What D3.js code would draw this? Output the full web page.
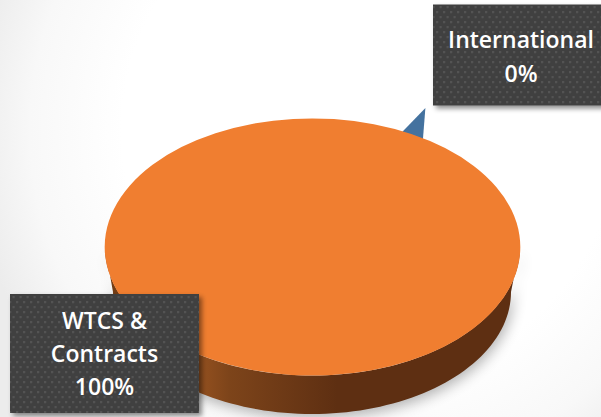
<!DOCTYPE html>
<html>
<head>
<meta charset="utf-8">
<style>
  html, body { margin: 0; padding: 0; background: #fff; overflow: hidden; }
  svg { display: block; }
  text { font-family: "Open Sans", sans-serif; font-weight: 600; fill: #fff; }
</style>
</head>
<body>
<svg id="chart" width="601" height="417"></svg>
<script src="https://cdn.jsdelivr.net/npm/d3@7"></script>
<script>
// Funding split
const categories = ["International", "WTCS & Contracts"];
const shares = [0.004, 0.996];
const labelLines = [["International"], ["WTCS &", "Contracts"]];

const W = 601, H = 417;
const svg = d3.select("#chart");
const defs = svg.append("defs");

// Disc geometry: unit-circle coordinates projected onto the tilted disc
const top3d = { cx: 312.5, cy: 247, rx: 207.5, ry: 128.5 };
const base3d = { cx: 312, cy: 292, rx: 199, ry: 122 };
const sx = g => d3.scaleLinear().domain([-1, 1]).range([g.cx - g.rx, g.cx + g.rx]);
const sy = g => d3.scaleLinear().domain([-1, 1]).range([g.cy + g.ry, g.cy - g.ry]);
const project = (g, a, r = 1) => [sx(g)(r * Math.sin(a)), sy(g)(r * Math.cos(a))];

const deg = Math.PI / 180;
const pie = d3.pie().sort(null).value(d => d).startAngle(27 * deg).endAngle(387 * deg);
const slices = pie(shares);
const line = d3.line();
const COLORS = { International: "#44729f", "WTCS & Contracts": "#f07e30" };

// Page backdrop: white with a soft grey falloff towards the edges
const bg = defs.append("radialGradient").attr("id", "bg").attr("gradientUnits", "userSpaceOnUse")
  .attr("cx", 370).attr("cy", 130).attr("r", 400);
bg.append("stop").attr("offset", 0.62).attr("stop-color", "#ffffff");
bg.append("stop").attr("offset", 0.85).attr("stop-color", "#f8f8f8");
bg.append("stop").attr("offset", 1).attr("stop-color", "#ececec");
svg.append("rect").attr("width", W).attr("height", H).attr("fill", "url(#bg)");

// Filters and fills
defs.append("filter").attr("id", "discShadow").attr("x", "-20%").attr("y", "-20%").attr("width", "140%").attr("height", "140%")
  .append("feGaussianBlur").attr("stdDeviation", 7);
const boxShadow = defs.append("filter").attr("id", "boxShadow").attr("x", "-10%").attr("y", "-10%").attr("width", "125%").attr("height", "125%");
boxShadow.append("feDropShadow").attr("dx", 3).attr("dy", 3).attr("stdDeviation", 2.5)
  .attr("flood-color", "#000").attr("flood-opacity", 0.45);

const wallFill = defs.append("linearGradient").attr("id", "wall").attr("gradientUnits", "userSpaceOnUse")
  .attr("x1", 105).attr("x2", 520).attr("y1", 0).attr("y2", 0);
[[0, "#6e3a14"], [0.2, "#9c5521"], [0.3, "#7d441a"], [0.56, "#5e2f12"], [1, "#5e2f12"]].forEach(([o, c]) =>
  wallFill.append("stop").attr("offset", o).attr("stop-color", c));

const dots = defs.append("pattern").attr("id", "dots").attr("patternUnits", "userSpaceOnUse")
  .attr("width", 7).attr("height", 10).attr("x", 2).attr("y", 1);
dots.append("rect").attr("width", 7).attr("height", 10).attr("fill", "#404040");
dots.append("rect").attr("x", 0).attr("y", 0).attr("width", 2.2).attr("height", 2.2).attr("fill", "#535353");
dots.append("rect").attr("x", 3.5).attr("y", 5).attr("width", 2.2).attr("height", 2.2).attr("fill", "#535353");

// Side wall outline: front half of the rim, then back along the lower rim
const sweep = d3.range(90, 270.5, 2).map(a => a * deg);
const wallPath = line([
  ...sweep.map(a => project(top3d, a)),
  ...sweep.slice().reverse().map(a => project(base3d, a))
]) + "Z";

// Cast shadow below the disc
svg.append("path")
  .attr("d", wallPath)
  .attr("transform", "translate(2,4)")
  .attr("fill", "#000").attr("opacity", 0.3)
  .attr("filter", "url(#discShadow)");

// The small International slice, pulled out behind the disc
const small = slices[0];
const mid = (small.startAngle + small.endAngle) / 2;
svg.append("path")
  .attr("d", line([
    project(top3d, mid - 1.0 * deg, 1.21),
    project(top3d, mid - 2.4 * deg, 0.92),
    project(top3d, mid + 7.3 * deg, 0.92)
  ]) + "Z")
  .attr("fill", COLORS[categories[0]]);

svg.append("path").attr("d", wallPath).attr("fill", "url(#wall)");

// Top face of the large slice, closed over its tiny gap
const big = slices[1];
const arc = d3.arc().innerRadius(0).outerRadius(top3d.rx);
svg.append("path")
  .attr("d", arc({ startAngle: big.startAngle, endAngle: big.startAngle + 2 * Math.PI }))
  .attr("transform", `translate(${top3d.cx},${top3d.cy}) scale(1,${top3d.ry / top3d.rx})`)
  .attr("fill", COLORS[categories[1]]);

// Data labels
const boxes = [
  { x: 433, y: 4.5, w: 180, h: 101, tx: 521, baseline: 48, step: 34 },
  { x: 10, y: 294, w: 189, h: 119, tx: 104.5, baseline: 329, step: 33 }
];
const pct = d3.format(".0%");
categories.forEach((name, i) => {
  const b = boxes[i];
  svg.append("rect").attr("x", b.x).attr("y", b.y).attr("width", b.w).attr("height", b.h)
    .attr("fill", "url(#dots)").attr("filter", "url(#boxShadow)");
  const lines = [...labelLines[i], pct(shares[i])];
  lines.forEach((t, j) => {
    svg.append("text").attr("x", b.tx).attr("y", b.baseline + j * b.step)
      .attr("text-anchor", "middle").attr("font-size", 23).attr("font-weight", 700).text(t);
  });
});
</script>
</body>
</html>
